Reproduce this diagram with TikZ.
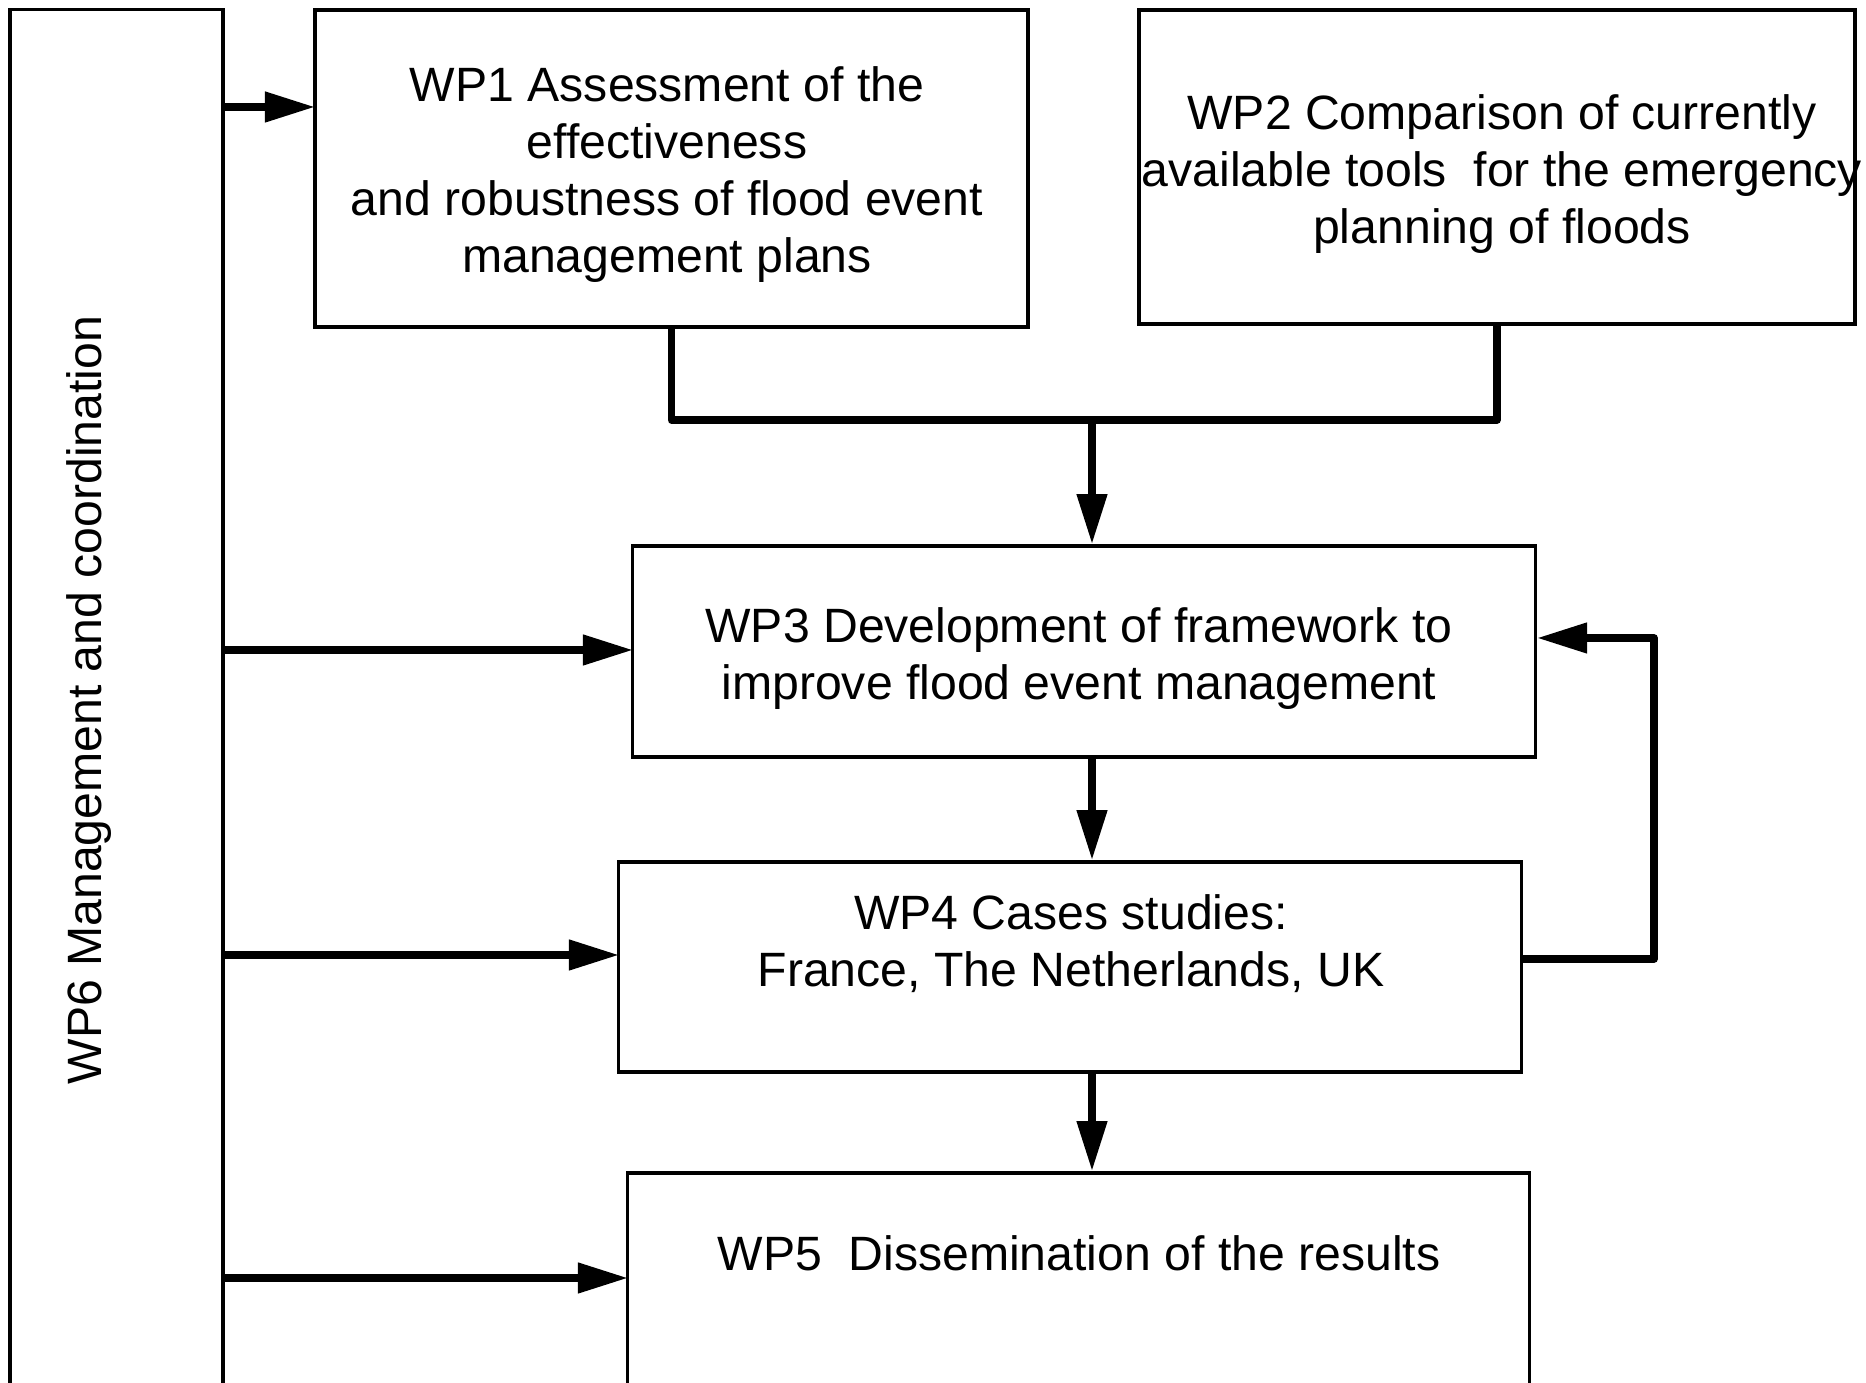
\documentclass[tikz,border=0pt]{standalone}
\usepackage{fontspec}
\setmainfont{Liberation Sans}
\usetikzlibrary{arrows.meta}

\begin{document}
\begin{tikzpicture}[x=0.01cm, y=-0.01cm,
    wpbox/.style ={draw, line width=0.035cm, inner sep=0pt},
    wptext/.style ={align=center, inner sep=0pt, font=\fontsize{13.7}{16.2}\selectfont},
    flow/.style ={line width=0.075cm, line join=round, -{Triangle[length=0.5cm, width=0.29cm]}},
    link/.style ={line width=0.075cm, line join=round}]
   \useasboundingbox (0,0) rectangle (1866,1383);
   \clip (0,0) rectangle (1866,1383);

   \node[wpbox, minimum width=2.13cm, minimum height=14.4cm] (wp6) at (116.5,730) {};
   \node[wpbox, minimum width=7.13cm, minimum height=3.17cm] (wp1) at (671.5,168.5) {};
   \node[wpbox, minimum width=7.16cm, minimum height=3.14cm] (wp2) at (1497,167) {};
   \node[wpbox, minimum width=9.02cm, minimum height=2.11cm] (wp3) at (1084,651.5) {};
   \node[wpbox, minimum width=9.02cm, minimum height=2.10cm] (wp4) at (1070,967) {};
   \node[wpbox, minimum width=9.01cm, minimum height=3.00cm] (wp5) at (1078.5,1323) {};

   \node[wptext, rotate=90] (wp6text) at (89,700) {WP6 Management and coordination};
   \node[wptext] (wp1text) at (667,175) {WP1 Assessment of the\\ effectiveness\\ and robustness of flood event\\ management plans};
   \node[wptext] (wp2text) at (1502,174) {WP2 Comparison of currently\\ available tools\ \ for the emergency\\ planning of floods};
   \node[wptext] (wp3text) at (1079,659) {WP3 Development of framework to\\ improve flood event management};
   \node[wptext] (wp4text) at (1071,944) {WP4 Cases studies:\\ France, The Netherlands, UK};
   \node[wptext] (wp5text) at (1079,1253) {WP5\ \ Dissemination of the results};

   \coordinate (merge) at (1092,420);
   \coordinate (wp1in) at (315,107);
   \coordinate (wp3in) at (633,650);
   \coordinate (wp4in) at (619,955);
   \coordinate (wp5in) at (628,1278);
   \coordinate (fbtop) at (1654,638);
   \coordinate (fbbot) at (1654,959);

   \draw[link] (wp1.south) |- (merge) -| (wp2.south);
   \draw[flow] (merge) -- (merge |- wp3.north);
   \draw[flow] (wp3.south -| merge) -- (wp4.north -| merge);
   \draw[flow] (wp4.south -| merge) -- (wp5.north -| merge);

   \draw[flow] (wp6.east |- wp1in) -- (wp1in);
   \draw[flow] (wp6.east |- wp3in) -- (wp3in);
   \draw[flow] (wp6.east |- wp4in) -- (wp4in);
   \draw[flow] (wp6.east |- wp5in) -- (wp5in);
   \draw[flow] (wp4.east |- fbbot) -- (fbbot) -- (fbtop) -- (wp3.east |- fbtop);
\end{tikzpicture}
\end{document}
